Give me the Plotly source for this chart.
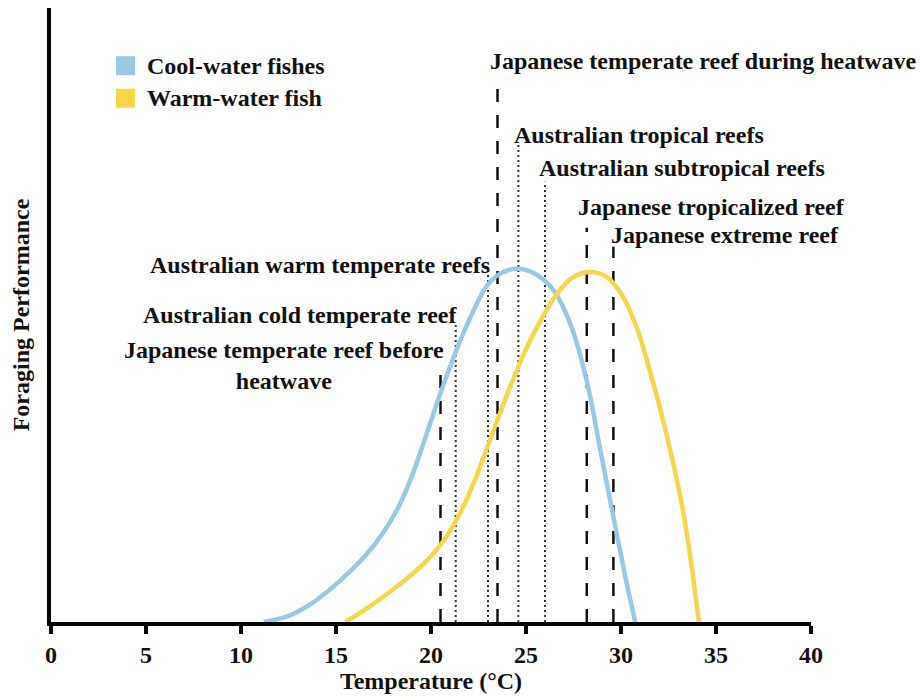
import plotly.graph_objects as go

# Thermal performance curves (temperature in °C, foraging performance in arbitrary units)
cool_temp = [11.2, 12.5, 13.8, 15.2, 16.6, 17.5, 18.3, 19.0, 19.7, 20.4, 21.3, 22.1, 23.0, 23.8,
             24.7, 25.6, 26.5, 27.4, 28.2, 28.9, 29.6, 30.3, 30.75]
cool_perf = [0, 1.0, 3.2, 6.7, 11.0, 14.6, 18.8, 23.8, 30.0, 36.4, 44.0, 49.8, 55.0, 57.0,
             57.5, 56.5, 53.8, 48.0, 39.2, 28.2, 17.1, 6.3, 0]

warm_temp = [15.5, 16.8, 18.0, 19.2, 20.2, 21.0, 21.7, 22.4, 23.1, 24.0, 24.9, 25.8, 26.6, 27.4,
             28.3, 29.2, 30.0, 30.8, 31.6, 32.4, 33.3, 34.1]
warm_perf = [0, 2.6, 5.3, 8.3, 11.4, 14.8, 18.8, 23.8, 29.6, 37.0, 43.8, 49.3, 53.3, 56.0,
             57.0, 56.3, 53.5, 48.2, 40.0, 30.5, 17.5, 0]

# Reef sites and their temperatures
site_names = [
    "Japanese temperate reef before<br>heatwave",
    "Australian cold temperate reef",
    "Australian warm temperate reefs",
    "Japanese temperate reef during heatwave",
    "Australian tropical reefs",
    "Australian subtropical reefs",
    "Japanese tropicalized reef",
    "Japanese extreme reef",
]
site_temps = [20.5, 21.3, 23.0, 23.5, 24.6, 26.0, 28.2, 29.6]
site_kind = ["japan", "australia", "australia", "japan", "australia", "australia", "japan", "japan"]

# Drawing layout for each site: top of the marker line, label anchor (x, y) and alignment
site_line_top = [41.9, 48.4, 57.3, 87.8, 77.7, 71.7, 64.2, 61.1]
site_label_x = [12.26, 21.45, 23.2, 23.0, 24.25, 25.57, 27.62, 29.36]
site_label_y = [41.8, 50.0, 58.1, 91.4, 79.3, 73.9, 67.6, 63.0]
site_label_anchor = ["center", "right", "right", "left", "left", "left", "left", "left"]

legend_names = ["Cool-water fishes", "Warm-water fish"]

BLUE = "#98C9E4"
YELLOW = "#F5D54C"
FONT = "Liberation Serif"
FS = 24

fig = go.Figure()

fig.add_trace(go.Scatter(x=cool_temp, y=cool_perf, mode="lines",
                         line=dict(color=BLUE, width=4.5, shape="spline", smoothing=1.0),
                         name=legend_names[0], showlegend=False, hoverinfo="skip"))
fig.add_trace(go.Scatter(x=warm_temp, y=warm_perf, mode="lines",
                         line=dict(color=YELLOW, width=4.5, shape="spline", smoothing=1.0),
                         name=legend_names[1], showlegend=False, hoverinfo="skip"))

# Site reference lines: dashed for Japanese reefs, dotted for Australian reefs
for t, top, kind in zip(site_temps, site_line_top, site_kind):
    if kind == "japan":
        ln = dict(color="#111111", width=2.5, dash="13px,13px")
    else:
        ln = dict(color="#333333", width=2, dash="2px,3px")
    fig.add_shape(type="line", x0=t, x1=t, y0=0, y1=top, xref="x", yref="y",
                  line=ln, layer="below")

for name, lx, ly, anc in zip(site_names, site_label_x, site_label_y, site_label_anchor):
    fig.add_annotation(x=lx, y=ly, xref="x", yref="y", text="<b>%s</b>" % name,
                       showarrow=False, xanchor=anc, yanchor="middle", align="center",
                       font=dict(family=FONT, size=FS, color="#111111"))

# Legend drawn as coloured squares with labels
legend_colors = [BLUE, YELLOW]
legend_y = [90.6, 85.3]
for name, col, ly in zip(legend_names, legend_colors, legend_y):
    fig.add_shape(type="rect", xref="x", yref="y", x0=3.42, x1=4.42,
                  y0=ly - 1.55, y1=ly + 1.55, line=dict(width=0), fillcolor=col)
    fig.add_annotation(x=4.95, y=ly, xref="x", yref="y", text="<b>%s</b>" % name,
                       showarrow=False, xanchor="left", yanchor="middle",
                       font=dict(family=FONT, size=FS, color="#111111"))

fig.update_layout(
    width=922, height=697,
    margin=dict(l=51, r=111, t=8, b=75),
    paper_bgcolor="white", plot_bgcolor="white",
    showlegend=False,
    font=dict(family=FONT, color="#111111"),
)
fig.update_xaxes(
    range=[0, 40], tickvals=[0, 5, 10, 15, 20, 25, 30, 35, 40],
    showgrid=False, zeroline=False,
    showline=True, linecolor="black", linewidth=4,
    ticks="outside", ticklen=8, tickwidth=4, tickcolor="black",
    tickfont=dict(family=FONT, size=FS, color="#111111", weight="bold"),
    title=dict(text="<b>Temperature (°C)</b>", font=dict(family=FONT, size=FS, color="#111111"),
               standoff=0),
)
fig.update_yaxes(
    range=[0, 100], showgrid=False, zeroline=False, showticklabels=False,
    showline=True, linecolor="black", linewidth=4, ticks="",
    title=dict(text="<b>Foraging Performance</b>", font=dict(family=FONT, size=FS, color="#111111"),
               standoff=12),
)

fig.write_html("out.html")
